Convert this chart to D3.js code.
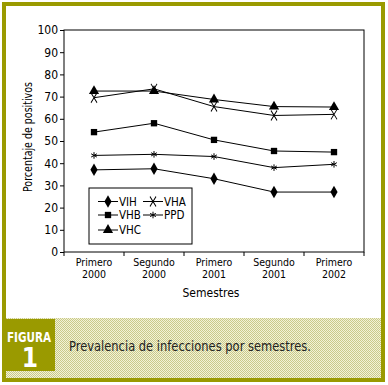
<!DOCTYPE html>
<html>
<head>
<meta charset="utf-8">
<script src="https://cdn.jsdelivr.net/npm/d3@7"></script>
<style>
  body { margin: 0; background: #fff; }
  text { font-family: "Liberation Sans Narrow", "DejaVu Sans Condensed", "Arial Narrow", sans-serif; }
</style>
</head>
<body>
<div id="chart"></div>
<script>
// chart values
var semestres = ["Primero|2000", "Segundo|2000", "Primero|2001", "Segundo|2001", "Primero|2002"];
var vih = [37, 37.5, 33, 27, 27];
var vhb = [54, 58, 50.5, 45.5, 45];
var vhc = [72.5, 72.5, 68.7, 65.5, 65.3];
var vha = [69.5, 73.5, 65.5, 61.5, 62];
var ppd = [43.5, 44, 43, 38, 39.5];
var yTicks = [0, 10, 20, 30, 40, 50, 60, 70, 80, 90, 100];

var series = [
    { name: "VIH", values: vih, symbol: d3.symbolDiamond, size: 45, fill: true },
    { name: "VHB", values: vhb, symbol: d3.symbolSquare, size: 40, fill: true },
    { name: "VHC", values: vhc, symbol: d3.symbolTriangle, size: 45, fill: true },
    { name: "VHA", values: vha, symbol: d3.symbolTimes, size: 40, fill: false },
    { name: "PPD", values: ppd, symbol: d3.symbolAsterisk, size: 30, fill: false }
];

var olive = "#9a9a00";
var width = 388, height = 385;

var svg = d3.select("#chart")
    .append("svg")
    .attr("width", width)
    .attr("height", height);

// hatch pattern for caption band
var pat = svg.append("defs").append("pattern")
    .attr("id", "hatch")
    .attr("width", 2).attr("height", 2)
    .attr("patternUnits", "userSpaceOnUse");
pat.append("rect").attr("width", 2).attr("height", 2).attr("fill", "#f2f2d6");
pat.append("rect").attr("width", 1).attr("height", 1).attr("fill", "#c9c98a");
pat.append("rect").attr("x", 1).attr("y", 1).attr("width", 1).attr("height", 1).attr("fill", "#c9c98a");

// caption band
svg.append("rect")
    .attr("x", 4).attr("y", 318)
    .attr("width", 379).attr("height", 62)
    .attr("fill", "url(#hatch)");

// figure box
svg.append("rect")
    .attr("x", 4).attr("y", 319)
    .attr("width", 51).attr("height", 52)
    .attr("fill", olive);
svg.append("text")
    .attr("x", 7).attr("y", 342)
    .attr("textLength", 44)
    .attr("lengthAdjust", "spacingAndGlyphs")
    .style("font-size", "14px")
    .style("font-weight", "bold")
    .attr("fill", "#fff")
    .text("FIGURA");
svg.append("text")
    .attr("x", 30).attr("y", 367)
    .attr("text-anchor", "middle")
    .style("font-size", "26px")
    .style("font-weight", "bold")
    .attr("fill", "#fff")
    .text("1");
svg.append("text")
    .attr("x", 69).attr("y", 351)
    .attr("textLength", 242)
    .attr("lengthAdjust", "spacingAndGlyphs")
    .style("font-size", "14px")
    .attr("fill", "#222")
    .text("Prevalencia de infecciones por semestres.");

// outer frame
svg.append("rect")
    .attr("x", 4).attr("y", 4)
    .attr("width", 379).attr("height", 376)
    .attr("fill", "none")
    .attr("stroke", olive)
    .attr("stroke-width", 4);

// plot area
var plotLeft = 64, plotTop = 30, plotRight = 364, plotBottom = 252;

var x = d3.scaleBand()
    .domain(semestres)
    .range([plotLeft, plotRight]);
var y = d3.scaleLinear()
    .domain([0, 100])
    .range([plotBottom, plotTop]);

svg.append("rect")
    .attr("x", plotLeft).attr("y", plotTop)
    .attr("width", plotRight - plotLeft).attr("height", plotBottom - plotTop)
    .attr("fill", "none")
    .attr("stroke", "#000");

// y axis
var yAxis = svg.append("g")
    .attr("transform", "translate(" + plotLeft + ",0)")
    .call(d3.axisLeft(y).tickValues(yTicks).tickSize(4).tickPadding(2));
yAxis.select(".domain").remove();
yAxis.selectAll("text").style("font-size", "12px").attr("fill", "#000");

// x axis: ticks on band boundaries
var xAxis = svg.append("g")
    .attr("transform", "translate(0," + plotBottom + ")")
    .call(d3.axisBottom(x).tickSize(0).tickFormat(""));
xAxis.select(".domain").remove();
var bounds = semestres.map(function (d) { return x(d); }).concat([x(semestres[semestres.length - 1]) + x.bandwidth()]);
xAxis.selectAll(".bound")
    .data(bounds)
    .enter()
    .append("line")
    .attr("x1", function (d) { return d; })
    .attr("x2", function (d) { return d; })
    .attr("y1", 0).attr("y2", 4)
    .attr("stroke", "#000");
xAxis.selectAll(".tick").each(function (d) {
    var parts = d.split("|");
    var tick = d3.select(this);
    tick.append("text")
        .attr("text-anchor", "middle")
        .attr("fill", "#000")
        .style("font-size", "10.5px")
        .attr("y", 13.5)
        .text(parts[0]);
    tick.append("text")
        .attr("text-anchor", "middle")
        .attr("fill", "#000")
        .style("font-size", "10.5px")
        .attr("y", 26)
        .text(parts[1]);
});

// axis titles
svg.append("text")
    .attr("x", 211).attr("y", 297)
    .attr("text-anchor", "middle")
    .style("font-size", "12px")
    .text("Semestres");
svg.append("text")
    .attr("transform", "translate(32,137) rotate(-90)")
    .attr("x", -55)
    .attr("textLength", 110)
    .attr("lengthAdjust", "spacingAndGlyphs")
    .style("font-size", "12px")
    .text("Porcentaje de positivos");

// lines and markers
var line = d3.line()
    .x(function (d, i) { return x(semestres[i]) + x.bandwidth() / 2; })
    .y(function (d) { return y(d); });

series.forEach(function (s) {
    svg.append("path")
        .datum(s.values)
        .attr("d", line)
        .attr("fill", "none")
        .attr("stroke", "#000")
        .attr("stroke-width", 1);
    svg.selectAll(".m-" + s.name)
        .data(s.values)
        .enter()
        .append("path")
        .attr("transform", function (d, i) {
            var t = "translate(" + (x(semestres[i]) + x.bandwidth() / 2) + "," + y(d) + ")";
            if (s.name === "VHA") t += " scale(0.8,1.3)";
            return t;
        })
        .attr("d", d3.symbol().type(s.symbol).size(s.size))
        .attr("fill", s.fill ? "#000" : "none")
        .attr("stroke", "#000")
        .attr("stroke-width", s.fill ? 0 : 1);
});

// legend
svg.append("rect")
    .attr("x", 89).attr("y", 188)
    .attr("width", 103).attr("height", 56)
    .attr("fill", "#fff")
    .attr("stroke", "#000");

var legendPos = {
    VIH: [98, 201.5], VHB: [98, 215], VHC: [98, 230],
    VHA: [143, 201.5], PPD: [143, 215]
};
series.forEach(function (s) {
    var p = legendPos[s.name];
    var g = svg.append("g").attr("transform", "translate(" + p[0] + "," + p[1] + ")");
    g.append("line")
        .attr("x1", 0).attr("x2", 20)
        .attr("y1", 0).attr("y2", 0)
        .attr("stroke", "#000");
    g.append("path")
        .attr("transform", "translate(10,0)" + (s.name === "VHA" ? " scale(0.8,1.3)" : ""))
        .attr("d", d3.symbol().type(s.symbol).size(s.size))
        .attr("fill", s.fill ? "#000" : "none")
        .attr("stroke", "#000")
        .attr("stroke-width", s.fill ? 0 : 1);
    g.append("text")
        .attr("x", 21).attr("y", 4.2)
        .style("font-size", "11.5px")
        .text(s.name);
});
</script>
</body>
</html>
